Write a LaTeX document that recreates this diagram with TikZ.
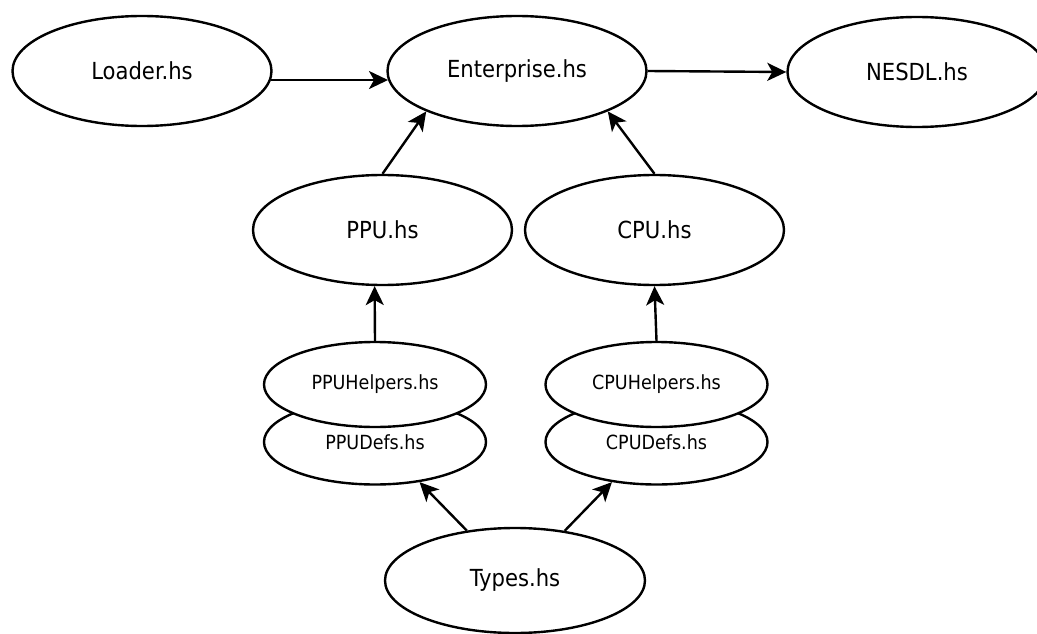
\documentclass[tikz,border=0pt]{standalone}
\usepackage{fontspec}
\setmainfont{DejaVu Sans Condensed}
\usetikzlibrary{shapes.geometric,arrows.meta}
\begin{document}
\begin{tikzpicture}[x=1pt,y=-1pt,
  bigmod/.style={draw,ellipse,line width=2.4pt,fill=white,inner sep=0pt,
    minimum width=259pt,minimum height=110pt,font=\fontsize{23.5}{25}\selectfont},
  smallmod/.style={draw,ellipse,line width=2.4pt,fill=white,inner sep=0pt,
    minimum width=222pt,minimum height=85pt,font=\fontsize{19.5}{21}\selectfont},
  dep/.style={line width=2.4pt,-{Stealth[length=19pt,width=18pt,inset=5pt]}}]
\useasboundingbox (0,0) rectangle (1037,634);
\clip (0,0) rectangle (1037,634);
\node[bigmod] (loader) at (142,71) {Loader.hs};
\node[bigmod] (ent) at (517,71) {Enterprise.hs};
\node[bigmod] (nesdl) at (917,72) {NESDL.hs};
\node[bigmod] (ppu) at (382.5,230) {PPU.hs};
\node[bigmod] (cpu) at (654.5,230) {CPU.hs};
\node[smallmod] (ppud) at (375,442) {PPUDefs.hs};
\node[smallmod] (ppuh) at (375,384.5) {PPUHelpers.hs};
\node[smallmod] (cpud) at (656.5,442) {CPUDefs.hs};
\node[smallmod] (cpuh) at (656.5,384.5) {CPUHelpers.hs};
\node[bigmod,minimum width=260pt,minimum height=105pt] (types) at (515,580.5) {Types.hs};
\draw[dep] (loader.-4) -- (ent.184);
\draw[dep] (ent.east) -- (nesdl.west);
\draw[dep] (ppu.north) -- (ent.204);
\draw[dep] (cpu.north) -- (ent.336.7);
\draw[dep] (ppuh.north) -- (ppu.262);
\draw[dep] (cpuh.north) -- (cpu.south);
\draw[dep] (types.134.7) -- (ppud.-42.3);
\draw[dep] (types.45.3) -- (cpud.222.6);
\end{tikzpicture}
\end{document}
